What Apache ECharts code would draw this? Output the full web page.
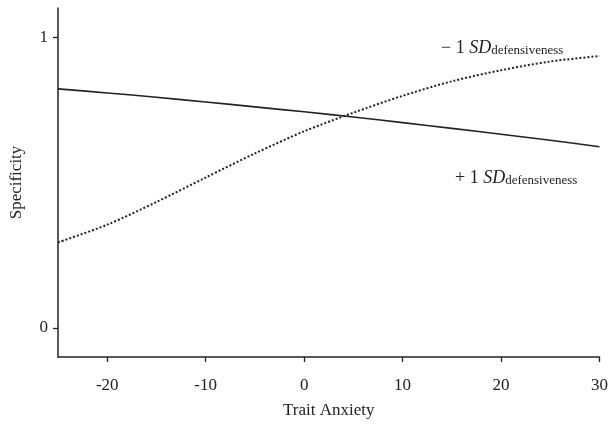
<!DOCTYPE html>
<html>
<head>
<meta charset="utf-8">
<script src="https://cdn.jsdelivr.net/npm/echarts@6/dist/echarts.min.js"></script>
<style>
html,body{margin:0;padding:0;background:#fff;}
#main{width:611px;height:425px;}
</style>
</head>
<body>
<div id="main"></div>
<script>
// Trait anxiety values (x) and predicted specificity for each group
var traitAnxiety = [-25, -20, -15, -10, -5, 0, 5, 10, 15, 20, 25, 30];
var plusOneSD  = [0.822, 0.808, 0.793, 0.777, 0.760, 0.743, 0.725, 0.706, 0.686, 0.666, 0.645, 0.623];
var minusOneSD = [0.294, 0.355, 0.433, 0.517, 0.600, 0.676, 0.740, 0.798, 0.848, 0.886, 0.916, 0.935];
var xTicks = [-20, -10, 0, 10, 20, 30];
var yTicks = [0, 1];

function pairs(xs, ys){ return xs.map(function(x,i){ return [x, ys[i]]; }); }

var FONT = 'Liberation Serif';
var chart = echarts.init(document.getElementById('main'), null, {renderer:'canvas'});
var richStyle = {
  a: {fontFamily: FONT, fontSize: 18, fill: '#222', lineHeight: 22, verticalAlign: 'bottom'},
  i: {fontFamily: FONT, fontSize: 18, fontStyle: 'italic', fill: '#222', lineHeight: 22, verticalAlign: 'bottom'},
  s: {fontFamily: FONT, fontSize: 13, fill: '#222', lineHeight: 22, verticalAlign: 'bottom', padding: [5, 0, 0, 0]}
};
chart.setOption({
  animation: false,
  backgroundColor: '#fff',
  textStyle: {fontFamily: FONT, color: '#222'},
  grid: {left: 58, right: 8, top: 8, bottom: 68, containLabel: false},
  xAxis: {
    type: 'value', min: -25, max: 30,
    name: 'Trait Anxiety', nameLocation: 'middle', nameGap: 45,
    nameTextStyle: {fontFamily: FONT, fontSize: 17, color: '#222'},
    axisLine: {show: true, onZero: false, lineStyle: {color: '#222', width: 1.5}},
    axisTick: {show: true, length: 5, customValues: xTicks, lineStyle: {color: '#222', width: 1.3}},
    axisLabel: {customValues: xTicks, margin: 20, fontFamily: FONT, fontSize: 17, color: '#222'},
    splitLine: {show: false}
  },
  yAxis: {
    type: 'value', min: -0.1, max: 1.1,
    name: 'Specificity', nameLocation: 'middle', nameGap: 33,
    nameTextStyle: {fontFamily: FONT, fontSize: 17, color: '#222'},
    axisLine: {show: true, onZero: false, lineStyle: {color: '#222', width: 1.5}},
    axisTick: {show: true, length: 5, customValues: yTicks, lineStyle: {color: '#222', width: 1.3}},
    axisLabel: {customValues: yTicks, margin: 10, fontFamily: FONT, fontSize: 17, color: '#222'},
    splitLine: {show: false}
  },
  series: [
    {
      name: '+1 SD', type: 'line', data: pairs(traitAnxiety, plusOneSD),
      smooth: 0.3, showSymbol: false, symbol: 'none',
      lineStyle: {color: '#222', width: 1.6, type: 'solid'}
    },
    {
      name: '-1 SD', type: 'line', data: pairs(traitAnxiety, minusOneSD),
      smooth: 0.3, showSymbol: false, symbol: 'none',
      lineStyle: {color: '#222', width: 2, type: [2, 2]}
    }
  ],
  graphic: [
    {
      type: 'text', left: 441, top: 39,
      style: {text: '{a|\u2212 1 }{i|SD}{s|defensiveness}', rich: richStyle}
    },
    {
      type: 'text', left: 455, top: 169,
      style: {text: '{a|+ 1 }{i|SD}{s|defensiveness}', rich: richStyle}
    }
  ]
});
</script>
</body>
</html>
